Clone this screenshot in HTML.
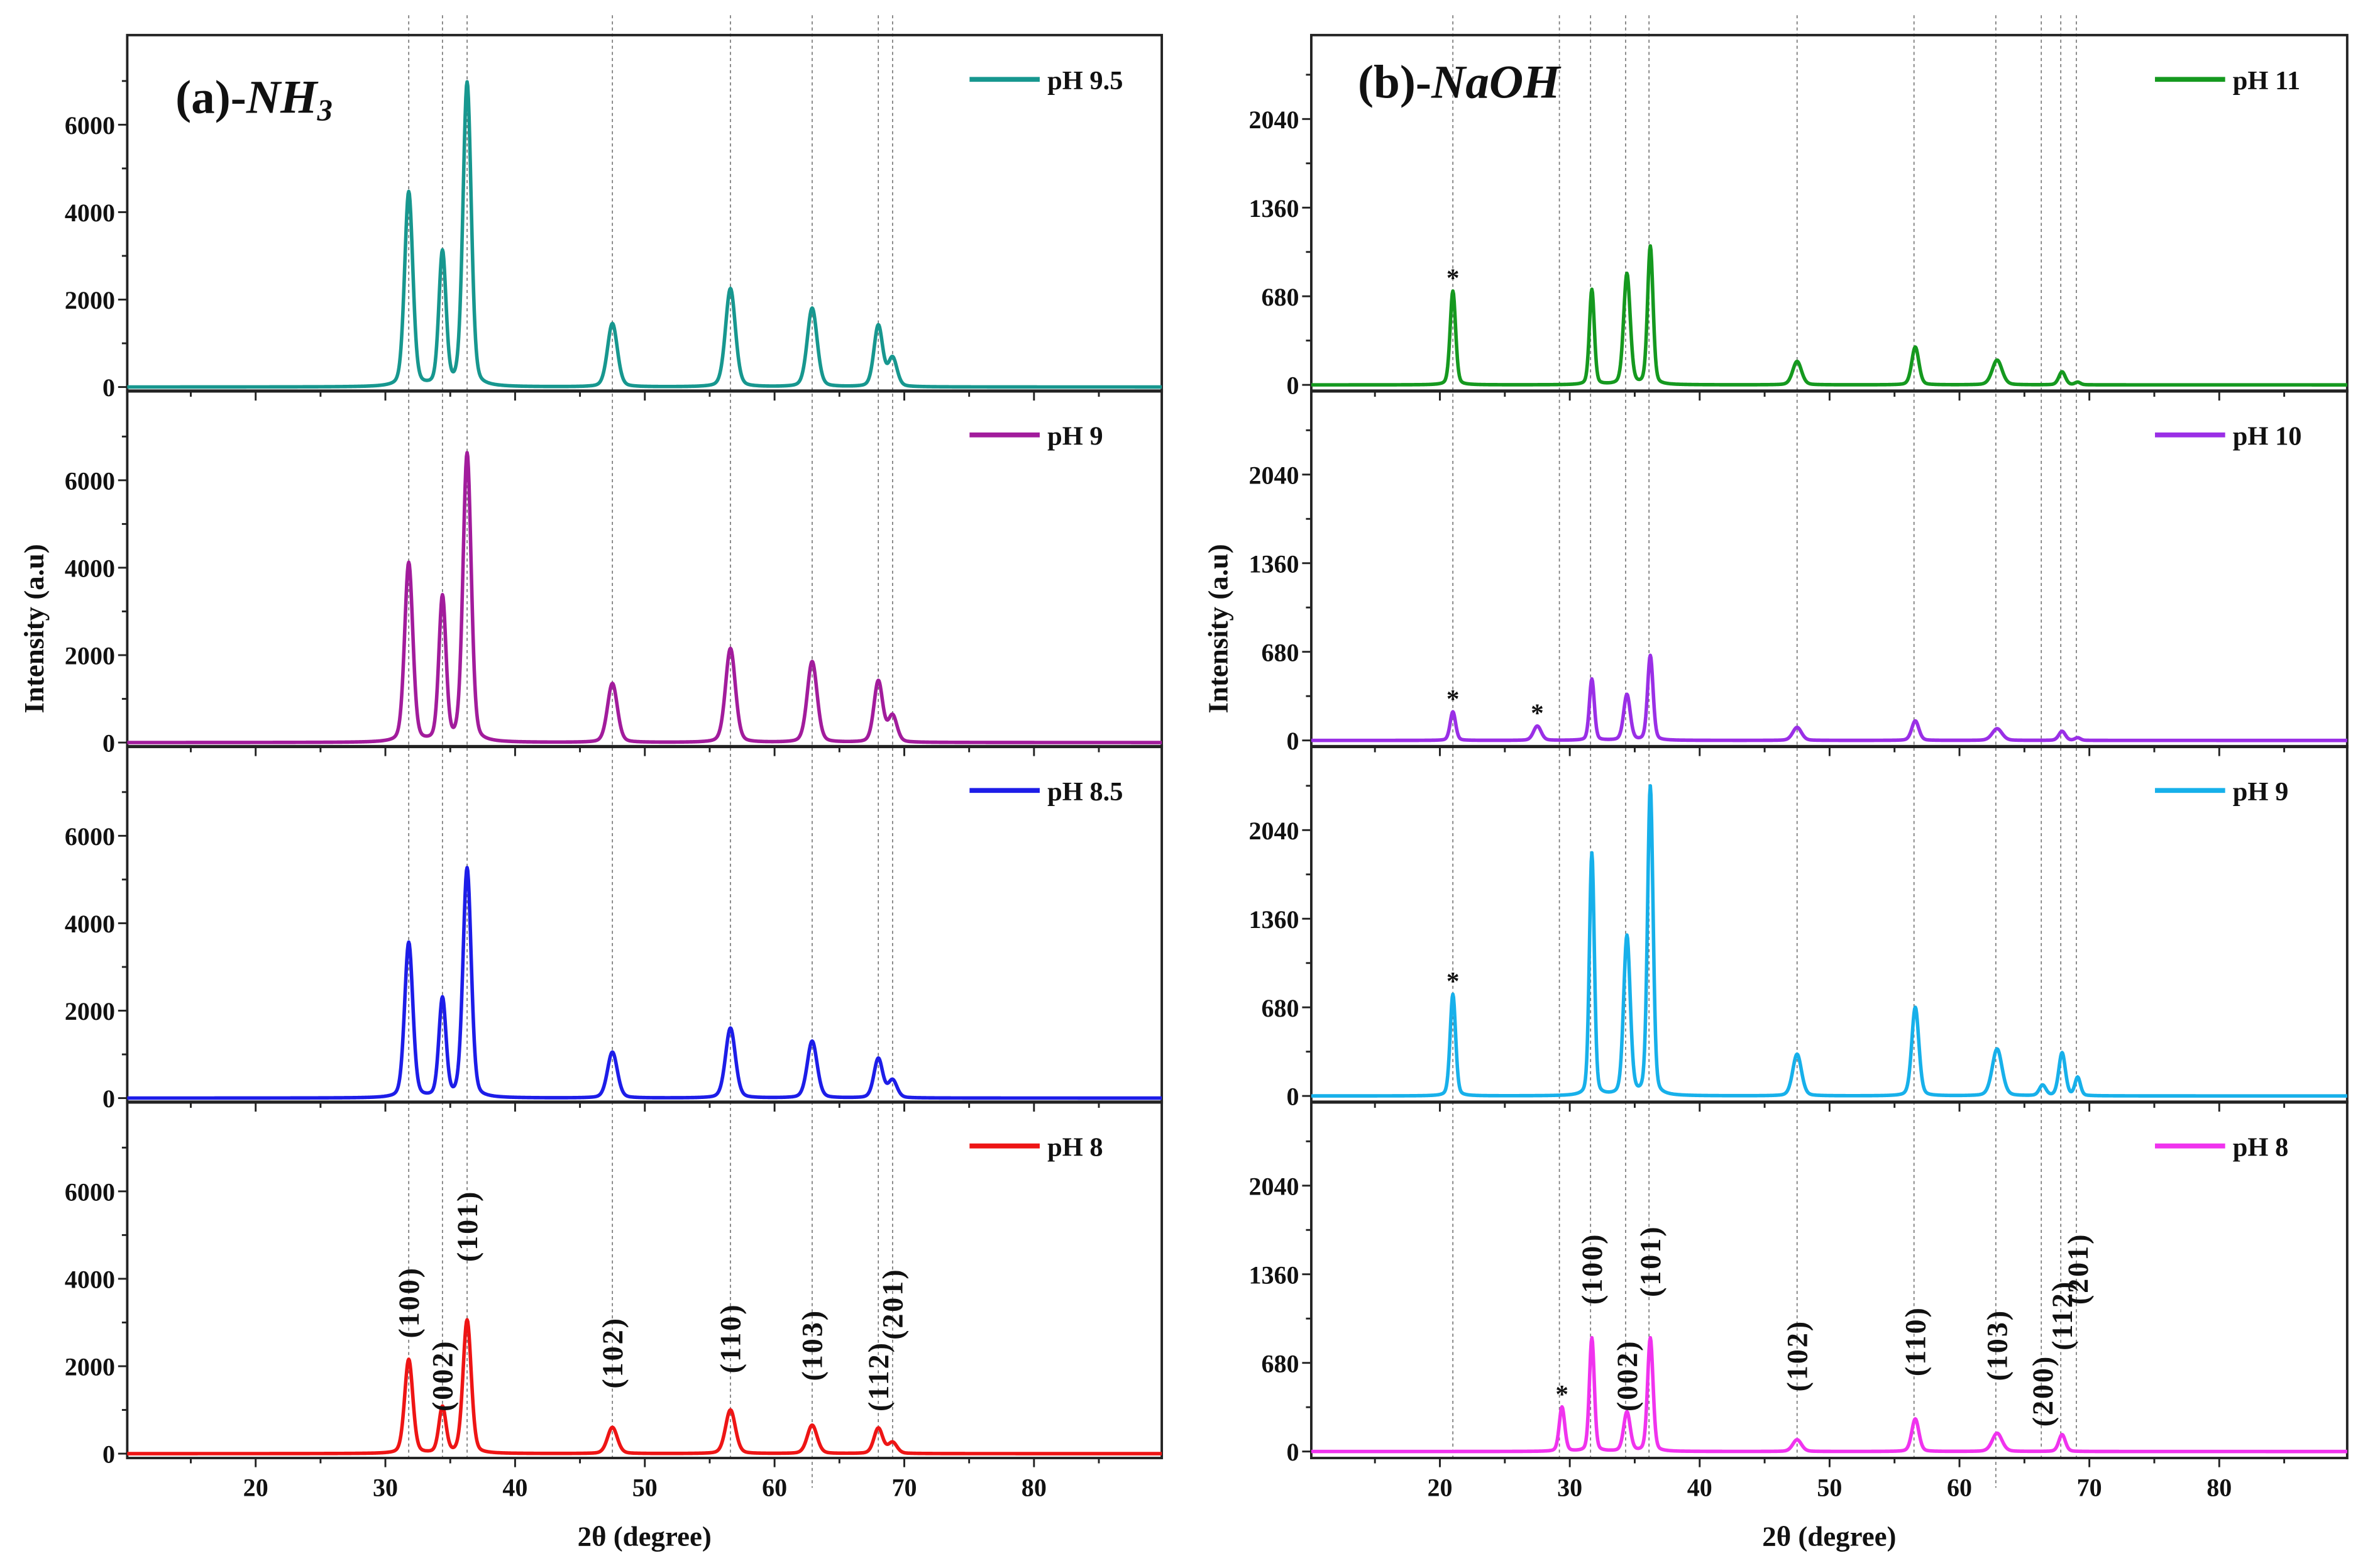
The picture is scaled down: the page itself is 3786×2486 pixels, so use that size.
<!DOCTYPE html>
<html><head><meta charset="utf-8"><style>
html,body{margin:0;padding:0;background:#fff;}
svg{display:block;}
text{font-family:"Liberation Serif",serif;font-weight:bold;fill:#111;}
</style></head><body>
<svg id="chart" xmlns="http://www.w3.org/2000/svg" width="3786" height="2486" viewBox="0 0 1560 1024.3" preserveAspectRatio="none">
<rect x="0" y="0" width="1560" height="1024.3" fill="#fff"/>
</svg>
<script>
// ---- data ----
const xTicks = [20,30,40,50,60,70,80];
const leftYTicks = [0,2000,4000,6000];
const rightYTicks = [0,680,1360,2040];
const leftRefLines = [31.8,34.4,36.3,47.5,56.6,62.9,68.0,69.1];
const rightRefLines = [21.0,29.2,31.6,34.3,36.1,47.5,56.5,62.8,66.3,67.8,69.0];
const leftPeakPos = [31.8,34.4,36.3,47.5,56.6,62.9,68.0,69.1];
const leftPeakWidth = [0.75,0.65,0.75,0.9,0.9,0.9,0.8,0.8];
const leftLabels = ["pH 9.5","pH 9","pH 8.5","pH 8"];
const leftColors = ["#17978f","#a21c9c","#1d1de8","#ee1515"];
const nh3_pH95 = [4450,3050,6950,1450,2250,1800,1400,650];
const nh3_pH9  = [4100,3300,6600,1350,2150,1850,1400,600];
const nh3_pH85 = [3550,2250,5250,1050,1600,1300,900,400];
const nh3_pH8  = [2150,1050,3050,600,1000,650,580,250];
const rightPeakPos = [21.0,27.5,29.4,31.7,34.4,36.2,47.5,56.6,62.9,66.4,67.9,69.1];
const rightPeakWidth = [0.5,0.7,0.5,0.45,0.6,0.5,0.8,0.65,0.9,0.6,0.6,0.5];
const rightLabels = ["pH 11","pH 10","pH 9","pH 8"];
const rightColors = ["#15991f","#9a2fe6","#17b0ea","#f033ee"];
const naoh_pH11 = [720,0,0,730,850,1060,180,290,190,0,100,20];
const naoh_pH10 = [220,110,0,470,350,650,100,150,90,0,70,20];
const naoh_pH9  = [780,0,0,1860,1220,2370,320,680,360,80,330,140];
const naoh_pH8  = [0,0,340,870,300,870,90,250,140,0,130,0];
const leftHkl = [["(100)",31.8,877],["(002)",34.4,925],["(101)",36.3,827],["(102)",47.5,910],["(110)",56.6,900],["(103)",62.9,905],["(112)",68.0,925],["(201)",69.1,878]];
const rightHkl = [["(100)",31.7,855],["(002)",34.4,925],["(101)",36.2,850],["(102)",47.5,912],["(110)",56.6,902],["(103)",62.9,905],["(200)",66.4,935],["(112)",67.9,885],["(201)",69.1,855]];
const rightStars = [[[21.0,720]],[[21.0,220],[27.5,110]],[[21.0,780]],[[29.4,340]]];

const NS="http://www.w3.org/2000/svg";
const svg=document.getElementById('chart');
function mk(tag,attrs,parent){const e=document.createElementNS(NS,tag);for(const k in attrs)e.setAttribute(k,attrs[k]);(parent||svg).appendChild(e);return e;}

const panelTop=[23,256,489,722], panelH=233.5;
const dMin=10.1, dMax=89.85;
function drawSide(opt){
  const {x0,x1,ymin,ymax,series,colors,labels,pos,wid,yTicks,minorStep,refLines,hkl,stars,side}=opt;
  const sx=v=>x0+(v-dMin)/(dMax-dMin)*(x1-x0);
  refLines.forEach((r,i)=>{
    const l=mk('line',{x1:sx(r),x2:sx(r),y1:10,y2:(i==(side=='nh3'?5:7)?975:956),stroke:'#777','stroke-width':0.7,'stroke-dasharray':'2,2'});
    
    
  });
  series.forEach((vals,p)=>{
    const top=panelTop[p], bot=top+panelH;
    const sy=v=>bot-(v-ymin)/(ymax-ymin)*panelH;
    const g=mk('g',{});
    
    
    mk('rect',{x:x0,y:top,width:x1-x0,height:panelH,fill:'none',stroke:'#222','stroke-width':1.6},g);
    for(let v=15;v<=85;v+=5){
      const major=v%10==0;
      mk('line',{x1:sx(v),x2:sx(v),y1:bot,y2:bot+(major?6:3.5),stroke:'#222','stroke-width':1.2},g);
    }
    const maxT=yTicks[yTicks.length-1]+minorStep;
    for(let v=0;v<=maxT+1;v+=minorStep){
      if(sy(v)<top+1)break;
      const major=yTicks.includes(v);
      mk('line',{x1:x0,x2:x0-(major?6:3.5),y1:sy(v),y2:sy(v),stroke:'#222','stroke-width':1.2},g);
    }
    yTicks.forEach(v=>{
      const t=mk('text',{x:x0-8,y:sy(v)+6,'text-anchor':'end','font-size':16.5},g);
      t.textContent=v;
      
      
    });
    let d='';
    for(let i=0;i<=1595;i++){
      const x=dMin+i*0.05;
      let y=0;
      vals.forEach((h,k)=>{
        if(!h)return;
        const w=wid[k]/2, dx=x-pos[k];
        const gs=Math.exp(-0.693*dx*dx/(w*w)), lz=1/(1+dx*dx/(w*w));
        y+=h*(0.75*gs+0.25*lz);
      });
      d+=(i?'L':'M')+sx(x).toFixed(2)+','+sy(y).toFixed(2);
    }
    const path=mk('path',{d:d,fill:'none',stroke:colors[p],'stroke-width':2.3,'stroke-linejoin':'round'},g);
    
    
    const lx=x1-126;
    const ll=mk('line',{x1:lx,x2:lx+46,y1:top+29,y2:top+29,stroke:colors[p],'stroke-width':3.2},g);
    
    
    const lt=mk('text',{x:lx+51,y:top+35.5,'font-size':17.5},g);
    lt.textContent=labels[p];
    
    
    if(stars){stars[p].forEach(s=>{
      const st=mk('text',{x:sx(s[0]),y:sy(s[1])-3,'text-anchor':'middle','font-size':17},g);
      st.textContent='*';
      
      
    });}
    if(p==3){
      xTicks.forEach(v=>{
        const t=mk('text',{x:sx(v),y:bot+25,'text-anchor':'middle','font-size':16.5},g);
        t.textContent=v;
        
        
      });
      hkl.forEach(h=>{
        const t=mk('text',{x:0,y:0,'font-size':19,'letter-spacing':1.2,transform:'translate('+(sx(h[1])+6.5)+','+h[2]+') rotate(-90)'},g);
        t.textContent=h[0];
        
        
      });
    }
  });
  const xt=mk('text',{x:(x0+x1)/2,y:1013,'text-anchor':'middle','font-size':18.5});
  xt.textContent='2θ (degree)';
  
  
  const yt=mk('text',{x:0,y:0,'text-anchor':'middle','font-size':18.5,transform:'translate('+(x0-55)+',412) rotate(-90)'});
  yt.textContent='Intensity (a.u)';
  
  
}
drawSide({x0:83.4,x1:761.5,ymin:-100,ymax:8050,series:[nh3_pH95,nh3_pH9,nh3_pH85,nh3_pH8],colors:leftColors,labels:leftLabels,pos:leftPeakPos,wid:leftPeakWidth,yTicks:leftYTicks,minorStep:1000,refLines:leftRefLines,hkl:leftHkl,stars:null,side:'nh3'});
drawSide({x0:859.5,x1:1538.5,ymin:-50,ymax:2684,series:[naoh_pH11,naoh_pH10,naoh_pH9,naoh_pH8],colors:rightColors,labels:rightLabels,pos:rightPeakPos,wid:rightPeakWidth,yTicks:rightYTicks,minorStep:340,refLines:rightRefLines,hkl:rightHkl,stars:rightStars,side:'naoh'});
const ta=mk('text',{x:115,y:74,'font-size':31});
ta.innerHTML='(a)-<tspan font-style="italic">NH</tspan><tspan font-style="italic" font-size="20" dy="5">3</tspan>';


const tb=mk('text',{x:890,y:64,'font-size':31});
tb.innerHTML='(b)-<tspan font-style="italic">NaOH</tspan>';


</script>
</body></html>
